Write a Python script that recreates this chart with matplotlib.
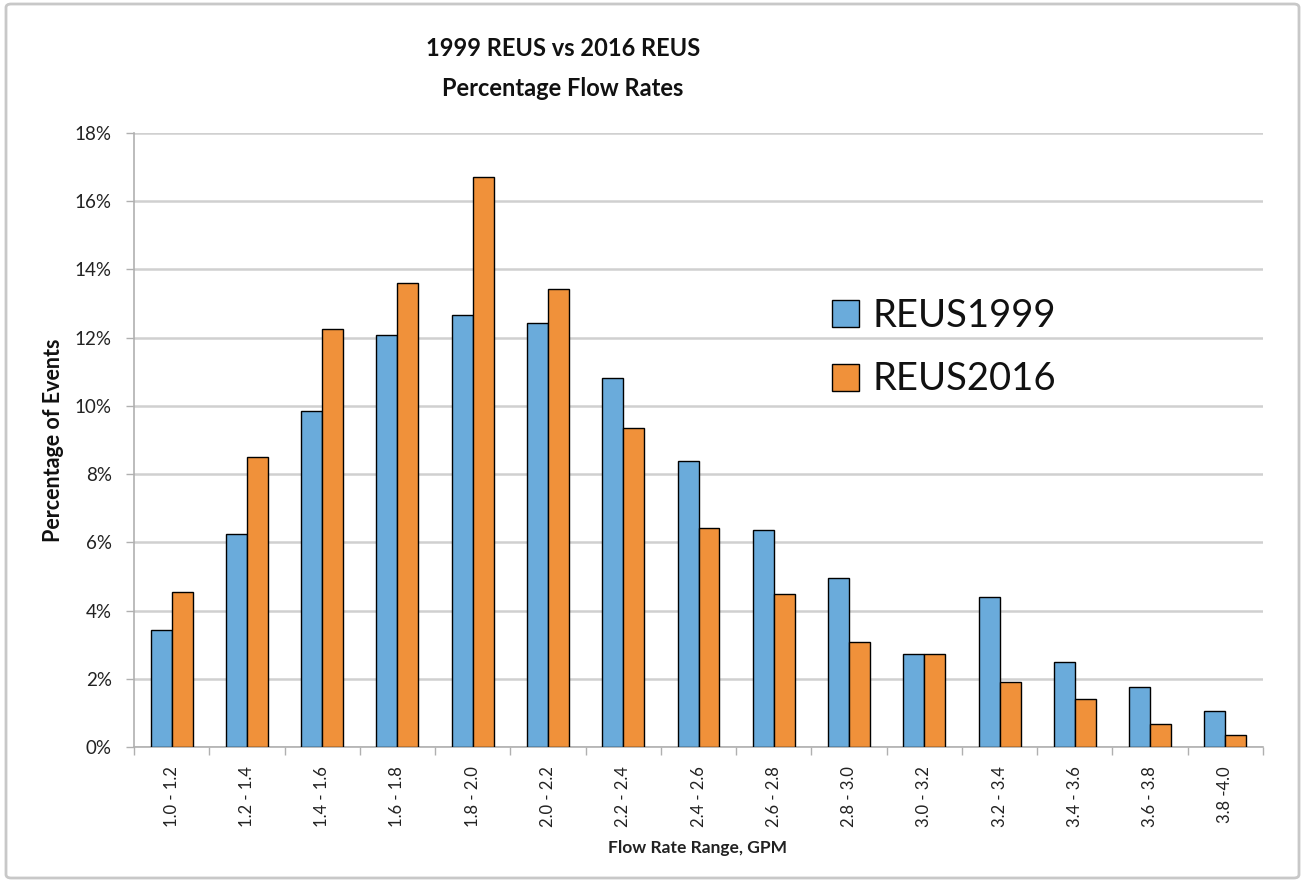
# -*- coding: utf-8 -*-
"""
Balkendiagramm: Durchflussraten REUS 1999 vs REUS 2016
"""
# ------------------------------------------------------------------------------
# I M P O R T
import numpy as np
import matplotlib
matplotlib.use('Agg')
import matplotlib.pyplot as plt
from matplotlib.patches import FancyBboxPatch

plt.rcParams['font.family'] = ['Lato', 'DejaVu Sans']

# ------------------------------------------------------------------------------
# D A T E N
ranges = ['1.0 - 1.2', '1.2 - 1.4', '1.4 - 1.6', '1.6 - 1.8', '1.8 - 2.0',
          '2.0 - 2.2', '2.2 - 2.4', '2.4 - 2.6', '2.6 - 2.8', '2.8 - 3.0',
          '3.0 - 3.2', '3.2 - 3.4', '3.4 - 3.6', '3.6 - 3.8', '3.8 -4.0']

reus1999 = [3.43, 6.23, 9.84, 12.09, 12.66, 12.44, 10.81, 8.38, 6.36, 4.96,
            2.74, 4.39, 2.48, 1.75, 1.06]     # [%]
reus2016 = [4.55, 8.50, 12.26, 13.60, 16.71, 13.44, 9.35, 6.41, 4.49, 3.09,
            2.74, 1.91, 1.42, 0.67, 0.34]     # [%]

yticks = np.arange(0, 19, 2)

# ------------------------------------------------------------------------------
# P L O T
W, H = 1301, 882
fig = plt.figure(figsize=(W / 100, H / 100), dpi=100)
ax = fig.add_axes([134 / W, 1 - 747 / H, (1263 - 134) / W, (747 - 133) / H])

blue = '#6aabdb'
orange = '#f0913a'
grid_c = '#d0d0d0'

x = np.arange(len(ranges))
bw = 0.279
ax.bar(x - bw / 2, reus1999, bw, color=blue, edgecolor='black', linewidth=1.0,
       label='REUS1999', zorder=3)
ax.bar(x + bw / 2, reus2016, bw, color=orange, edgecolor='black', linewidth=1.0,
       label='REUS2016', zorder=3)

ax.set_xlim(-0.5, len(ranges) - 0.5)
ax.set_ylim(0, 18)

# y-Achse
ax.set_yticks(yticks)
ax.set_yticklabels(['%d%%' % v for v in yticks], fontsize=13.5, color='#222222')
ax.yaxis.grid(True, color=grid_c, linewidth=1.8, zorder=0)
ax.tick_params(axis='y', length=6, width=1, color='#b0b0b0', pad=10)

# x-Achse: Beschriftung mittig, Striche an den Klassengrenzen
ax.set_xticks(x)
ax.set_xticklabels(ranges, rotation=90, fontsize=12, color='#222222')
ax.set_xticks(np.arange(len(ranges) + 1) - 0.5, minor=True)
ax.tick_params(axis='x', which='major', length=0, pad=14)
ax.tick_params(axis='x', which='minor', length=6, width=1, color='#b0b0b0')

for s in ['top', 'right']:
    ax.spines[s].set_visible(False)
for s in ['left', 'bottom']:
    ax.spines[s].set_color('#b0b0b0')
    ax.spines[s].set_linewidth(1.2)

# Titel und Achsentitel
fig.text(563 / W, 1 - 56 / H, '1999 REUS vs 2016 REUS', ha='center', va='baseline',
         fontsize=17, fontweight='bold', color='#111111')
fig.text(563 / W, 1 - 96 / H, 'Percentage Flow Rates', ha='center', va='baseline',
         fontsize=17, fontweight='bold', color='#111111')
fig.text(54 / W, 1 - 440 / H, 'Percentage of Events', rotation=90, ha='center',
         va='center', fontsize=15.5, fontweight='bold', color='#111111')
fig.text(698 / W, 1 - 853 / H, 'Flow Rate Range, GPM', ha='center', va='baseline',
         fontsize=12.5, fontweight='bold', color='#222222')

# Legende
leg = ax.legend(loc='upper left', bbox_to_anchor=(832 / W, 1 - 298 / H),
                bbox_transform=fig.transFigure, frameon=False, fontsize=27.5,
                handlelength=0.71, handleheight=0.71, handletextpad=0.34,
                labelspacing=0.72, borderpad=0, borderaxespad=0)
for t in leg.get_texts():
    t.set_color('#111111')

# Rahmen um das Diagramm
frame = FancyBboxPatch((6 / W, 4 / H), (W - 8) / W, (H - 8) / H,
                       boxstyle='round,pad=0,rounding_size=0.004',
                       transform=fig.transFigure, fill=False,
                       edgecolor='#c8c8c8', linewidth=2)
fig.patches.append(frame)

fig.savefig('out.png', dpi=100)
